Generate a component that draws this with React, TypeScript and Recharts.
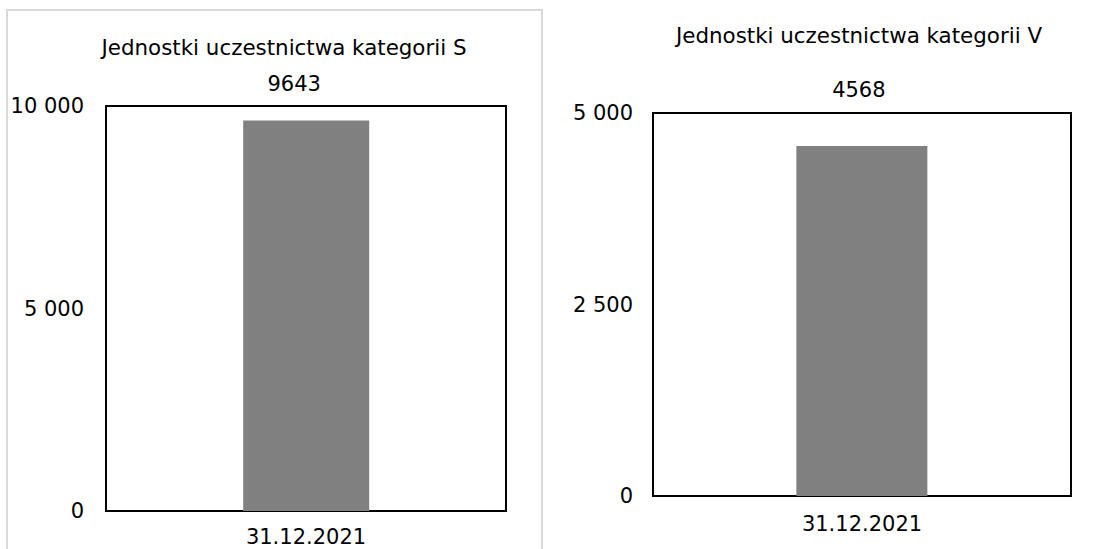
import React from "react";
import { Bar, BarChart, LabelList, ReferenceArea, XAxis, YAxis } from "recharts";

const categories = ["31.12.2021"];
const valuesS = [9643];
const valuesV = [4568];
const ticksS = [0, 5000, 10000];
const ticksV = [0, 2500, 5000];
const titleS = "Jednostki uczestnictwa kategorii S";
const titleV = "Jednostki uczestnictwa kategorii V";

const FONT = "'DejaVu Sans', Verdana, sans-serif";
const BAR_COLOR = "#808080";
const TEXT_SIZE = 21;

const formatTick = (n: number) => String(n).replace(/\B(?=(\d{3})+(?!\d))/g, " ");

type PanelProps = {
  title: string;
  values: number[];
  ticks: number[];
  left: number;
  width: number;
  margin: { top: number; right: number; bottom: number; left: number };
  yAxisWidth: number;
  titleX: number;
  titleY: number;
  valueY: number;
  valueDx: number;
  xTickMargin: number;
  yTickMargin: number;
};

function ValueLabel(props: any & { labelY: number; dx: number }) {
  const { x, width, value, labelY, dx } = props;
  return (
    <text
      x={Number(x) + Number(width) / 2 + dx}
      y={labelY}
      textAnchor="middle"
      dominantBaseline="central"
      fontSize={TEXT_SIZE}
      fontFamily={FONT}
      fill="#000"
    >
      {value}
    </text>
  );
}

function Panel(p: PanelProps) {
  const data = categories.map((c, i) => ({ date: c, value: p.values[i] }));
  const max = p.ticks[p.ticks.length - 1];
  return (
    <div style={{ position: "absolute", left: p.left, top: 0, width: p.width, height: 549 }}>
      <div
        style={{
          position: "absolute",
          left: 0,
          width: p.titleX * 2,
          top: p.titleY - 14,
          height: 28,
          lineHeight: "28px",
          textAlign: "center",
          fontFamily: FONT,
          fontSize: 21.4,
          color: "#000",
          whiteSpace: "nowrap",
        }}
      >
        {p.title}
      </div>
      <BarChart
        width={p.width}
        height={549}
        data={data}
        margin={p.margin}
        barCategoryGap="34.3%"
        style={{ position: "absolute", left: 0, top: 0 }}
      >
        <XAxis
          dataKey="date"
          axisLine={false}
          tickLine={false}
          tickSize={0}
          tickMargin={p.xTickMargin}
          height={30}
          tick={{ fontSize: TEXT_SIZE, fontFamily: FONT, fill: "#000" }}
        />
        <YAxis
          domain={[0, max]}
          ticks={p.ticks}
          tickFormatter={formatTick}
          axisLine={false}
          tickLine={false}
          tickSize={0}
          tickMargin={p.yTickMargin}
          width={p.yAxisWidth}
          tick={{ fontSize: TEXT_SIZE, fontFamily: FONT, fill: "#000" }}
        />
        <Bar dataKey="value" fill={BAR_COLOR} isAnimationActive={false}>
          <LabelList
            dataKey="value"
            content={(lp: any) => <ValueLabel {...lp} labelY={p.valueY} dx={p.valueDx} />}
          />
        </Bar>
        <ReferenceArea y1={0} y2={max} fill="none" fillOpacity={0} stroke="#000" strokeWidth={2} />
      </BarChart>
    </div>
  );
}

export default function App() {
  return (
    <div style={{ position: "relative", width: 1116, height: 549, overflow: "hidden", background: "#fff" }}>
      <style>{"body{margin:0}"}</style>
      <div
        style={{
          position: "absolute",
          left: 6,
          top: 9,
          width: 533,
          height: 560,
          border: "2px solid #d9d9d9",
        }}
      />
      <Panel
        title={titleS}
        values={valuesS}
        ticks={ticksS}
        left={0}
        width={543}
        margin={{ top: 106, right: 37, bottom: 8, left: 0 }}
        yAxisWidth={106}
        titleX={284}
        titleY={48}
        valueY={84}
        valueDx={-12}
        xTickMargin={18}
        yTickMargin={22}
      />
      <Panel
        title={titleV}
        values={valuesV}
        ticks={ticksV}
        left={543}
        width={573}
        margin={{ top: 113, right: 45, bottom: 23, left: 0 }}
        yAxisWidth={110}
        titleX={316}
        titleY={36}
        valueY={90}
        valueDx={-3}
        xTickMargin={20}
        yTickMargin={20}
      />
    </div>
  );
}
